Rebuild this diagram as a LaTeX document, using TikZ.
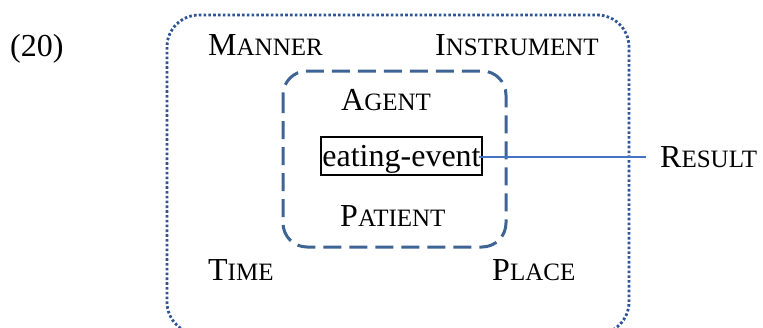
\documentclass[tikz,border=0pt]{standalone}
\usepackage{fontspec}
\setmainfont{Liberation Serif}
\definecolor{dashblue}{RGB}{62,100,150}
\definecolor{dotblue}{RGB}{47,85,151}
\definecolor{lineblue}{RGB}{68,114,196}
\newcommand{\SC}[2]{#1{\fontsize{25}{28}\selectfont #2}}
\tikzset{
  lbl/.style={anchor=base west, inner sep=0pt, font=\fontsize{32}{36}\selectfont},
  outerbox/.style={draw=dotblue, line width=2.8pt, dash pattern=on 2.6pt off 2.2pt, rounded corners=32pt},
  innerbox/.style={draw=dashblue, line width=3pt, dash pattern=on 18pt off 8pt, rounded corners=24pt},
  evbox/.style={draw=black, line width=2pt, inner xsep=1pt, inner ysep=5pt, text height=24pt, text depth=4pt, font=\fontsize{32}{36}\selectfont},
  conn/.style={draw=lineblue, line width=2pt}
}
\begin{document}
\begin{tikzpicture}[x=1pt,y=-1pt]
\useasboundingbox (0,0) rectangle (763,327);
\clip (0,0) rectangle (763,327);
\fill[white] (0,0) rectangle (763,327);
\draw[outerbox] (167,15) rectangle (629,334);
\draw[innerbox] (283,71) rectangle (506,247);
\node[lbl] (num) at (10,56) {(20)};
\node[lbl] (manner) at (208,55) {\SC{M}{ANNER}};
\node[lbl] (instr) at (435,55) {\SC{I}{NSTRUMENT}};
\node[lbl] (agent) at (341,110) {\SC{A}{GENT}};
\node[evbox] (ev) at (401.5,156) {eating-event};
\node[lbl] (patient) at (340,226) {\SC{P}{ATIENT}};
\node[lbl] (time) at (208,280) {\SC{T}{IME}};
\node[lbl] (place) at (492,280) {\SC{P}{LACE}};
\node[lbl] (result) at (660,167) {\SC{R}{ESULT}};
\coordinate (rend) at (646,156.5);
\draw[conn] (ev.east |- rend) ++(-4,0) -- (rend);
\end{tikzpicture}
\end{document}
